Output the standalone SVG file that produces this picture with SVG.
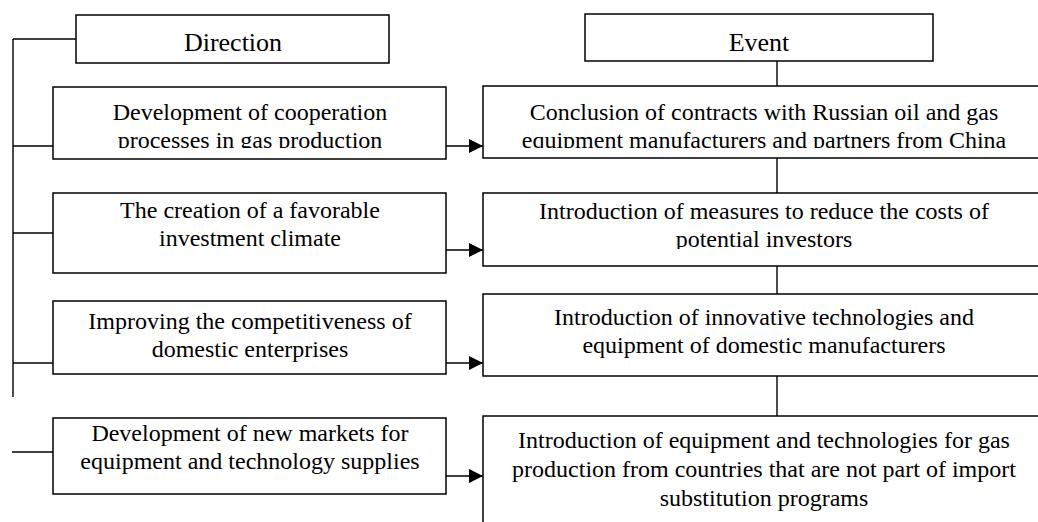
<svg xmlns="http://www.w3.org/2000/svg" width="1038" height="522" viewBox="0 0 1038 522">
  <style>
    .box { fill: #fff; stroke: #000; stroke-width: 1.5; }
    .ln { fill: none; stroke: #000; stroke-width: 1.4; }
    .t { font-family: "Liberation Serif", "Times New Roman", serif; font-size: 24px; fill: #000; text-anchor: middle; }
    .h { font-size: 26px; }
  </style>
  <defs>
    <marker id="arrow" markerWidth="14" markerHeight="14" refX="14" refY="7" orient="auto" markerUnits="userSpaceOnUse">
      <polygon points="0,0 14,7 0,14" fill="#000"/>
    </marker>
    <clipPath id="clipD1"><rect x="53" y="87" width="393" height="61"/></clipPath>
    <clipPath id="clipE1"><rect x="483" y="86" width="560" height="62"/></clipPath>
    <clipPath id="clipE2"><rect x="483" y="193" width="560" height="56"/></clipPath>
  </defs>

  <rect width="1038" height="522" fill="#fff"/>

  <!-- connectors -->
  <g id="connectors">
    <!-- left trunk with branches -->
    <path class="ln" d="M13,39 V397"/>
    <path class="ln" d="M13,39 H76"/>
    <path class="ln" d="M13,146 H53"/>
    <path class="ln" d="M13,233 H53"/>
    <path class="ln" d="M13,363 H53"/>
    <path class="ln" d="M12,452 H53"/>
    <!-- direction to event arrows -->
    <path class="ln" d="M446,146 H483" marker-end="url(#arrow)"/>
    <path class="ln" d="M446,250 H483" marker-end="url(#arrow)"/>
    <path class="ln" d="M446,363 H483" marker-end="url(#arrow)"/>
    <path class="ln" d="M446,476 H483" marker-end="url(#arrow)"/>
    <!-- event column spine -->
    <path class="ln" d="M777,61 V86"/>
    <path class="ln" d="M777,158 V193"/>
    <path class="ln" d="M777,266 V294"/>
    <path class="ln" d="M777,376 V416"/>
  </g>

  <!-- headers -->
  <g id="direction-header">
    <rect class="box" x="76" y="15" width="313" height="48"/>
    <text class="t h" x="233" y="51">Direction</text>
  </g>
  <g id="event-header">
    <rect class="box" x="585" y="14" width="348" height="47"/>
    <text class="t h" x="759" y="51">Event</text>
  </g>

  <!-- direction nodes -->
  <g id="direction-1">
    <rect class="box" x="53" y="87" width="393" height="72"/>
    <g clip-path="url(#clipD1)">
      <text class="t" x="250" y="120">Development of cooperation</text>
      <text class="t" x="250" y="148">processes in gas production</text>
    </g>
  </g>
  <g id="direction-2">
    <rect class="box" x="53" y="193" width="393" height="80"/>
    <text class="t" x="250" y="218">The creation of a favorable</text>
    <text class="t" x="250" y="246">investment climate</text>
  </g>
  <g id="direction-3">
    <rect class="box" x="53" y="301" width="393" height="73"/>
    <text class="t" x="250" y="329">Improving the competitiveness of</text>
    <text class="t" x="250" y="357">domestic enterprises</text>
  </g>
  <g id="direction-4">
    <rect class="box" x="53" y="418" width="393" height="76"/>
    <text class="t" x="250" y="441">Development of new markets for</text>
    <text class="t" x="250" y="469">equipment and technology supplies</text>
  </g>

  <!-- event nodes (run past the right edge) -->
  <g id="event-1">
    <rect class="box" x="483" y="86" width="570" height="72"/>
    <g clip-path="url(#clipE1)">
      <text class="t" x="764" y="120">Conclusion of contracts with Russian oil and gas</text>
      <text class="t" x="764" y="148">equipment manufacturers and partners from China</text>
    </g>
  </g>
  <g id="event-2">
    <rect class="box" x="483" y="193" width="570" height="73"/>
    <g clip-path="url(#clipE2)">
      <text class="t" x="764" y="219">Introduction of measures to reduce the costs of</text>
      <text class="t" x="764" y="247">potential investors</text>
    </g>
  </g>
  <g id="event-3">
    <rect class="box" x="483" y="294" width="570" height="82"/>
    <text class="t" x="764" y="325">Introduction of innovative technologies and</text>
    <text class="t" x="764" y="353">equipment of domestic manufacturers</text>
  </g>
  <g id="event-4">
    <rect class="box" x="483" y="416" width="570" height="120"/>
    <text class="t" x="764" y="448">Introduction of equipment and technologies for gas</text>
    <text class="t" x="764" y="477">production from countries that are not part of import</text>
    <text class="t" x="764" y="506">substitution programs</text>
  </g>
</svg>
